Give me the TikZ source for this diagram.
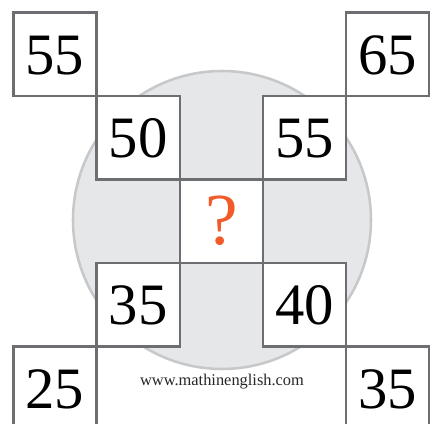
\documentclass[tikz,border=0pt]{standalone}
\usepackage{fontspec}
\setmainfont{Liberation Serif}
\definecolor{boxgray}{HTML}{6D6E71}
\definecolor{discgray}{HTML}{E6E7E8}
\definecolor{discedge}{HTML}{C7C8CA}
\definecolor{qorange}{HTML}{F15A29}
\tikzset{
  numbox/.style={draw=boxgray, line width=1.9pt, fill=white,
    minimum width=62.4pt, minimum height=62.6pt, inner sep=0pt,
    font=\fontsize{44}{44}\selectfont, text height=29.8pt, text depth=0pt}
}
\begin{document}
\begin{tikzpicture}[x=0.75pt,y=-0.75pt]
  \useasboundingbox (0,0) rectangle (430,424);
  \clip (0,0) rectangle (430,424);
  % grey disc behind the boxes
  \draw[discedge, fill=discgray, line width=1.9pt] (222,220) circle[radius=149];
  % outer corners
  \node[numbox] (tl) at (55,54.15) {55};
  \node[numbox] (tr) at (387.8,54.15) {65};
  \node[numbox] (bl) at (55,388.15) {25};
  \node[numbox] (br) at (387.8,388.15) {35};
  % inner corners
  \node[numbox] (itl) at (138.2,137.65) {50};
  \node[numbox] (itr) at (304.6,137.65) {55};
  \node[numbox] (ibl) at (138.2,304.65) {35};
  \node[numbox] (ibr) at (304.6,304.65) {40};
  % centre
  \node[numbox, text=qorange, font=\fontsize{55}{55}\selectfont,
    text height=35pt] (mid) at (221.4,221.15) {?};
  \node[font=\fontsize{12.3}{12.3}\selectfont, text=black!85] (site) at (222,381.7) {www.mathinenglish.com};
\end{tikzpicture}
\end{document}
